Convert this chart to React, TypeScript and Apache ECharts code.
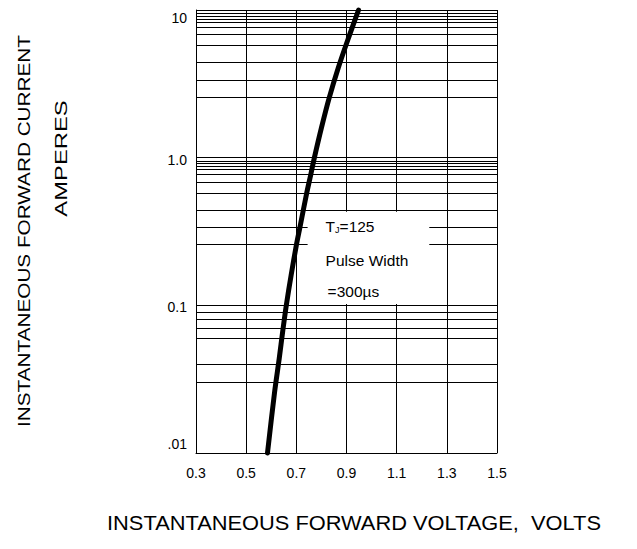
import React, { useEffect, useRef } from "react";
import * as echarts from "echarts";

// Forward voltage (V) and forward current (A)
const voltage = [0.585, 0.613, 0.632, 0.646, 0.66, 0.679, 0.7, 0.714, 0.741, 0.757, 0.772, 0.8, 0.831, 0.867, 0.908, 0.948];
const current = [0.01, 0.0256, 0.0439, 0.0673, 0.1, 0.159, 0.255, 0.335, 0.572, 0.761, 1.0, 1.59, 2.54, 4.05, 6.47, 10];

// Vertical grid lines (V)
const xGridValues = [0.5, 0.7, 0.9, 1.1, 1.3, 1.5];
// Decade tops and the minor grid lines drawn inside each decade (fraction of decade top)
const decadeTops = [10, 1, 0.1];
const minorFractions = [0.95, 0.91, 0.87, 0.83, 0.77, 0.68, 0.575, 0.44, 0.335, 0.255];
// Y tick labels
const yTickLabels: Record<string, string> = { "10": "{top|10}", "1": "{one|1.0}", "0.1": "{ten|0.1}", "0.01": "{bot|.01}" };

const FONT = "'Liberation Sans', Arial, sans-serif";

export default function App() {
  const ref = useRef<HTMLDivElement>(null);
  useEffect(() => {
    if (!ref.current) return;
    const chart = echarts.init(ref.current, null, { renderer: "svg" });
    const yGridValues: number[] = [];
    decadeTops.forEach((t) => minorFractions.forEach((f) => yGridValues.push(t * f)));
    const labelStyle = { color: "#000", fontSize: 14, fontFamily: FONT };
    chart.setOption({
      animation: false,
      grid: { left: 196, right: 140, top: 10, bottom: 96 },
      xAxis: {
        type: "value",
        min: 0.3,
        max: 1.5,
        interval: 0.1,
        z: 0,
        axisLine: { show: true, onZero: false, lineStyle: { color: "#000", width: 1 } },
        axisTick: { show: false },
        splitLine: { show: false },
        axisLabel: {
          ...labelStyle,
          margin: 13,
          formatter: (v: number) => {
            const r = Math.round(v * 10);
            return r % 2 === 1 ? (r / 10).toFixed(1) : "";
          },
        },
      },
      yAxis: {
        type: "log",
        logBase: 10,
        min: 0.01,
        max: 10,
        z: 0,
        axisLine: { show: true, lineStyle: { color: "#000", width: 1 } },
        axisTick: { show: false },
        splitLine: { show: true, lineStyle: { color: "#000", width: 1 } },
        axisLabel: {
          ...labelStyle,
          margin: 9,
          formatter: (v: number) => {
            const key = String(parseFloat(v.toPrecision(3)));
            return yTickLabels[key] ?? "";
          },
          rich: {
            top: { ...labelStyle, padding: [16, 0, 0, 0] },
            one: { ...labelStyle, padding: [5, 0, 0, 0] },
            ten: { ...labelStyle, padding: [3, 0, 0, 0] },
            bot: { ...labelStyle, padding: [0, 0, 18, 0] },
          },
        },
      },
      series: [
        {
          type: "line",
          data: [],
          z: 1,
          silent: true,
          markLine: {
            z: 1,
            silent: true,
            animation: false,
            symbol: ["none", "none"],
            label: { show: false },
            emphasis: { disabled: true },
            lineStyle: { color: "#000", width: 1, type: "solid" },
            data: [
              ...xGridValues.map((v) => ({ xAxis: v })),
              ...yGridValues.map((v) => ({ yAxis: v })),
            ],
          },
        },
        {
          type: "line",
          data: voltage.map((v, i) => [v, current[i]]),
          symbol: "none",
          showSymbol: false,
          smooth: 0.3,
          clip: false,
          z: 20,
          lineStyle: { color: "#000", width: 5, cap: "round" },
        },
      ],
    });

    const p1 = chart.convertToPixel({ gridIndex: 0 }, [0.745, 0.43]) as number[];
    const p2 = chart.convertToPixel({ gridIndex: 0 }, [1.23, 0.102]) as number[];
    const bx = p1[0];
    const by = p1[1];
    const bw = p2[0] - p1[0];
    const bh = p2[1] - p1[1];
    const boxText = { fill: "#000", fontSize: 15.5, fontFamily: FONT };
    chart.setOption({
      graphic: {
        elements: [
          { type: "rect", z: 10, zlevel: 0, silent: true, shape: { x: bx, y: by, width: bw, height: bh }, style: { fill: "#fff" } },
          {
            type: "text", z: 11, x: bx + 18, y: by + 15,
            style: {
              text: "{t|T}{s|J}{t|=125}", textAlign: "left", textVerticalAlign: "middle",
              rich: { t: { ...boxText }, s: { fill: "#000", fontSize: 9, fontFamily: FONT, verticalAlign: "bottom" } },
            },
          },
          { type: "text", z: 11, x: bx + 18, y: by + 49, style: { ...boxText, text: "Pulse Width", textAlign: "left", textVerticalAlign: "middle" } },
          { type: "text", z: 11, x: bx + 20, y: by + 80, style: { ...boxText, text: "=300µs", textAlign: "left", textVerticalAlign: "middle" } },
          {
            type: "text", x: 24, y: 231, rotation: Math.PI / 2, scaleX: 1.22,
            style: { text: "INSTANTANEOUS FORWARD CURRENT", fill: "#000", fontSize: 17, fontFamily: FONT, textAlign: "center", textVerticalAlign: "middle" },
          },
          {
            type: "text", x: 61, y: 158.5, rotation: Math.PI / 2, scaleX: 1.4,
            style: { text: "AMPERES", fill: "#000", fontSize: 17, fontFamily: FONT, textAlign: "center", textVerticalAlign: "middle" },
          },
          {
            type: "text", x: 354, y: 523, scaleX: 1.12,
            style: { text: "INSTANTANEOUS FORWARD VOLTAGE,  VOLTS", fill: "#000", fontSize: 19.5, fontFamily: FONT, textAlign: "center", textVerticalAlign: "middle" },
          },
        ],
      },
    });
    return () => chart.dispose();
  }, []);
  return <div ref={ref} style={{ position: "absolute", left: 0, top: 0, width: 637, height: 549 }} />;
}
